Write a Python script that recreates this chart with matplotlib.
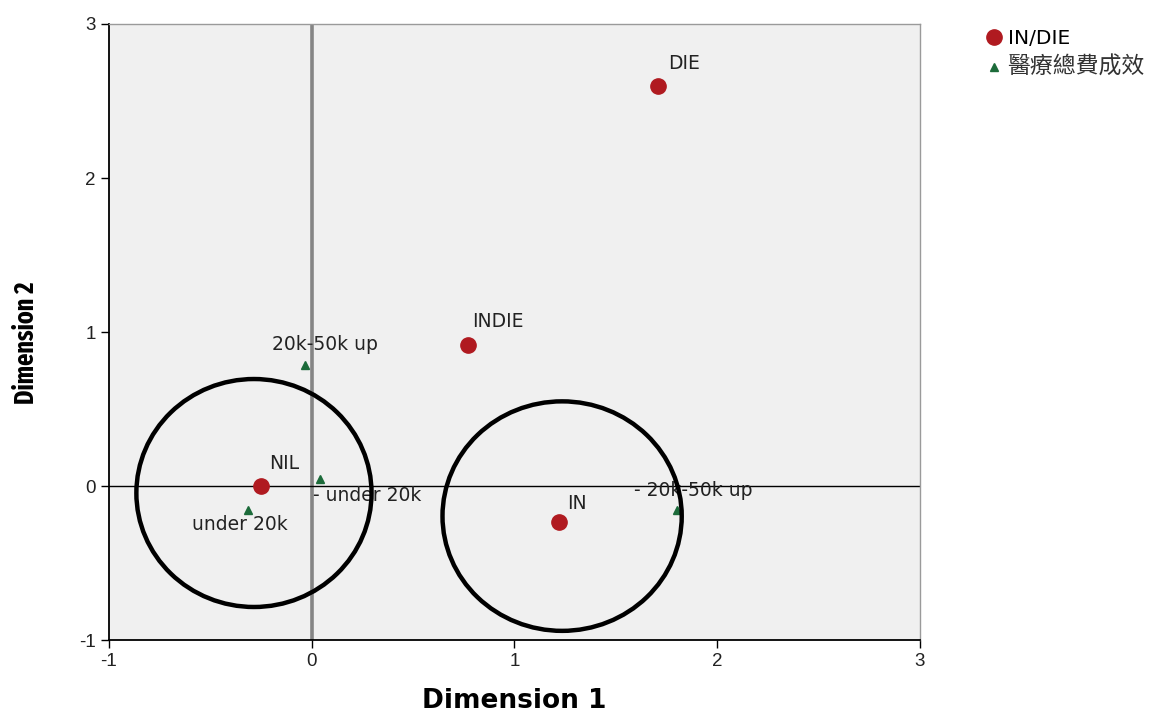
import matplotlib
matplotlib.use("Agg")
import matplotlib.pyplot as plt
from matplotlib.patches import Ellipse
from matplotlib.lines import Line2D

plt.rcParams['font.family'] = ['DejaVu Sans', 'Noto Sans CJK TC']

# Category points for IN/DIE
outcome_labels = ["DIE", "INDIE", "NIL", "IN"]
outcome_x = [1.71, 0.77, -0.25, 1.22]
outcome_y = [2.60, 0.915, 0.0, -0.23]

# Category points for medical cost effectiveness
cost_labels = ["20k-50k up", "- under 20k", "under 20k", "- 20k-50k up"]
cost_x = [-0.035, 0.04, -0.315, 1.80]
cost_y = [0.785, 0.045, -0.155, -0.155]

# Highlight ellipses: centre x, centre y, width, height
highlight_cx = [-0.285, 1.235]
highlight_cy = [-0.045, -0.195]
highlight_w = [1.16, 1.18]
highlight_h = [1.48, 1.49]

x_ticks = [-1, 0, 1, 2, 3]
y_ticks = [-1, 0, 1, 2, 3]

red = "#b01a20"
green = "#1c6b3a"

fig = plt.figure(figsize=(11.62, 7.16), dpi=100)
ax = fig.add_axes([0.0938, 0.106, 0.6979, 0.8605])
ax.set_facecolor("#f0f0f0")

ax.set_xlim(-1, 3)
ax.set_ylim(-1, 3)

# Reference lines through the origin
ax.axvline(0, color="#858585", lw=2.6, zorder=1)
ax.axhline(0, color="black", lw=1.0, zorder=1)

ax.plot(outcome_x, outcome_y, 'o', color=red, ms=11, mec=red, zorder=3)
ax.plot(cost_x, cost_y, '^', color=green, ms=6, mec=green, zorder=3)

label_size = 13.5

# Point labels: offsets in data units from each point
offsets_outcome = {"DIE": (0.05, 0.085), "INDIE": (0.02, 0.095), "NIL": (0.04, 0.085), "IN": (0.04, 0.055)}
for lab, x, y in zip(outcome_labels, outcome_x, outcome_y):
    dx, dy = offsets_outcome[lab]
    ax.text(x + dx, y + dy, lab, fontsize=label_size, color="#222222", ha="left", va="bottom", zorder=4)

offsets_cost = {
    "20k-50k up": (-0.16, 0.07, "bottom"),
    "- under 20k": (-0.035, -0.105, "center"),
    "under 20k": (-0.275, -0.03, "top"),
    "- 20k-50k up": (-0.21, 0.125, "center"),
}
for lab, x, y in zip(cost_labels, cost_x, cost_y):
    dx, dy, va = offsets_cost[lab]
    ax.text(x + dx, y + dy, lab, fontsize=label_size, color="#222222", ha="left", va=va, zorder=4)

for cx, cy, w, h in zip(highlight_cx, highlight_cy, highlight_w, highlight_h):
    ax.add_patch(Ellipse((cx, cy), w, h, fill=False, ec="black", lw=3.2, zorder=5, clip_on=False))

ax.set_xticks(x_ticks)
ax.set_yticks(y_ticks)
ax.set_xticklabels([str(t) for t in x_ticks])
ax.set_yticklabels([str(t) for t in y_ticks])
ax.tick_params(axis="both", direction="out", length=6, width=1, labelsize=13.5,
               colors="black", labelcolor="#222222", labelfontfamily="Liberation Sans")

for side in ["left", "bottom"]:
    ax.spines[side].set_color("black")
    ax.spines[side].set_linewidth(1.3)
for side in ["top", "right"]:
    ax.spines[side].set_color("#9a9a9a")
    ax.spines[side].set_linewidth(1.0)

ax.set_xlabel("Dimension 1", fontsize=19, fontweight="bold", va="center", ha="center")
ax.xaxis.set_label_coords(0.5, -0.099)
ax.set_ylabel("Dimension 2", fontsize=19, fontweight="bold", va="center", ha="center",
              family=['Fira Sans Extra Condensed', 'DejaVu Sans'])
ax.yaxis.set_label_coords(-0.102, 0.482)

handles = [
    Line2D([], [], marker='o', color=red, ls='none', ms=11),
    Line2D([], [], marker='^', color=green, ls='none', ms=6),
]
leg = fig.legend(handles, ["IN/DIE", "醫療總費成效"], loc="upper left", bbox_to_anchor=(0.829, 0.985),
                 frameon=False, handletextpad=0.1, labelspacing=0.4, handlelength=1.2,
                 prop={'family': ['DejaVu Sans', 'Noto Sans CJK TC'], 'size': 14.5})
leg.get_texts()[1].set_fontsize(16.5)
leg.get_texts()[1].set_color("#333333")

fig.savefig("out.png", dpi=100)
